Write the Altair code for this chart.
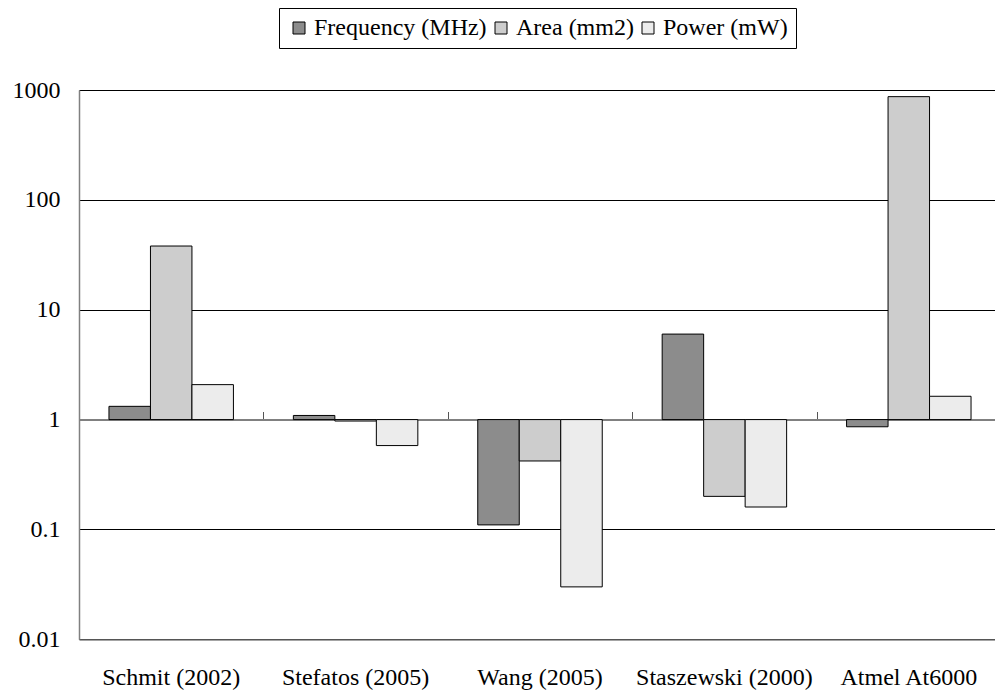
import altair as alt
import pandas as pd

categories = ["Schmit (2002)", "Stefatos (2005)", "Wang (2005)", "Staszewski (2000)", "Atmel At6000"]
series = ["Frequency (MHz)", "Area (mm2)", "Power (mW)"]
frequency = [1.32, 1.09, 0.11, 6.0, 0.86]
area = [38.0, 0.97, 0.42, 0.20, 870.0]
power = [2.08, 0.58, 0.030, 0.16, 1.63]
y_ticks = [0.01, 0.1, 1, 10, 100, 1000]

rows = []
for i, c in enumerate(categories):
    for s, vals in zip(series, [frequency, area, power]):
        rows.append({"category": c, "series": s, "value": vals[i]})
df = pd.DataFrame(rows)

FONT = "Liberation Serif"
fills = ["#8c8c8c", "#cdcdcd", "#ececec"]

xscale = alt.Scale(range=[0, 922], paddingInner=0.325, paddingOuter=0.1625)

base = alt.Chart(df)

cat_axis = base.mark_bar(opacity=0).encode(
    x=alt.X("category:N", sort=categories, scale=xscale,
            axis=alt.Axis(orient="top", offset=-329.5, labels=False, title=None,
                          domain=True, domainColor="#808080", domainWidth=2,
                          ticks=True, tickSize=8, tickColor="#555555", tickWidth=1,
                          tickOffset=92.2, grid=False))
)

bars = base.mark_bar(stroke="black", strokeWidth=1).encode(
    x=alt.X("category:N", sort=categories, scale=xscale,
            axis=alt.Axis(orient="bottom", title=None, ticks=False, labelPadding=26,
                          domainColor="#555555", domainWidth=1.5, labelFont=FONT,
                          labelFontSize=24, labelColor="black", labelAngle=0,
                          labelLimit=300, grid=False)),
    xOffset=alt.XOffset("series:N", sort=series,
                        scale=alt.Scale(paddingInner=0, paddingOuter=0)),
    y=alt.Y("value:Q",
            scale=alt.Scale(type="log", domain=[0.01, 1000], nice=False),
            axis=alt.Axis(title=None, values=y_ticks, format="~g", grid=True,
                          gridColor="black", gridWidth=1, ticks=False, labelPadding=19,
                          domainColor="#808080", domainWidth=1.5, labelFont=FONT,
                          labelFontSize=24, labelColor="black")),
    y2=alt.datum(1),
    color=alt.Color("series:N", sort=series,
                    scale=alt.Scale(domain=series, range=fills),
                    legend=alt.Legend(title=None, orient="none", legendX=200, legendY=-82,
                                      direction="horizontal", symbolType="square",
                                      symbolSize=144, symbolStrokeColor="black",
                                      symbolStrokeWidth=1, labelFont=FONT,
                                      labelFontSize=24, labelColor="black",
                                      labelLimit=400, labelOffset=3, columnPadding=2,
                                      padding=8, strokeColor="black", fillColor="white")),
)

chart = alt.layer(cat_axis, bars).resolve_axis(x="independent").properties(
    width=916, height=549.3,
    padding={"left": 79, "top": 90, "right": 0, "bottom": 51.7},
    autosize="none", background="white",
).configure_view(strokeWidth=0).configure(font=FONT)

chart.save("out.html", embed_options={"renderer": "svg", "actions": False})
